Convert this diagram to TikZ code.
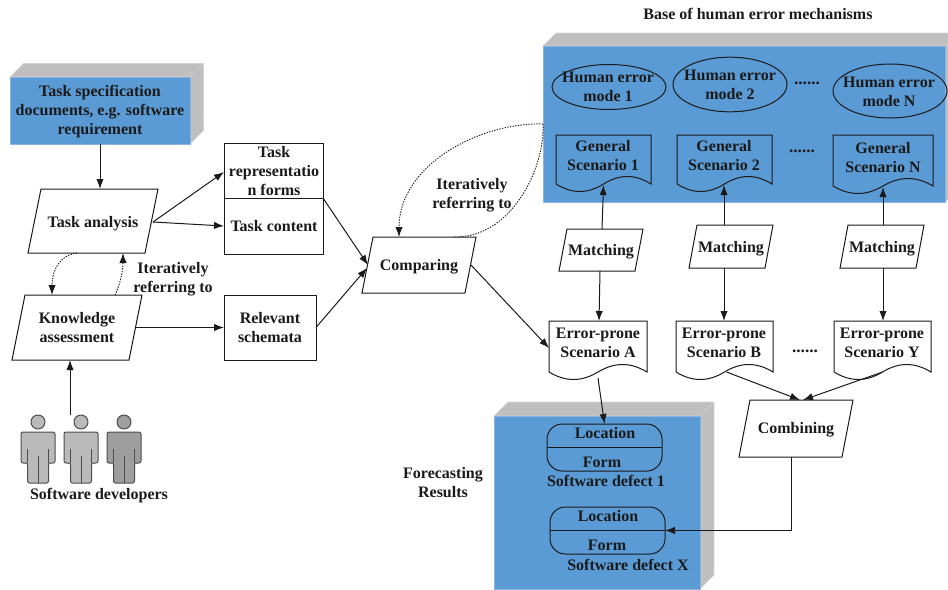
\documentclass[tikz,border=0pt]{standalone}
\usepackage{fontspec}
\setmainfont{Liberation Serif}
\usetikzlibrary{arrows.meta,calc,shapes.geometric}
\definecolor{faceblue}{HTML}{5B9BD5}
\definecolor{edgeblue}{HTML}{8DB4DE}
\definecolor{facegrey}{HTML}{BFBFBF}
\definecolor{edgegrey}{HTML}{D4D4D4}
\definecolor{ink}{HTML}{1A1A1A}
\tikzset{
  geo/.style={inner sep=0pt,outer sep=0pt,rectangle},
  shapeline/.style={draw=ink,line width=0.75pt},
  txt/.style={font=\bfseries\fontsize{12}{14.25}\selectfont,align=center,text=ink,inner sep=0pt},
  link/.style={draw=ink,line width=0.75pt,-{Latex[length=7.5pt,width=5.5pt]}},
  dotlink/.style={draw=ink,line width=0.7pt,dash pattern=on 1pt off 1pt,-{Latex[length=7.5pt,width=5.5pt]}},
  plainlink/.style={draw=ink,line width=0.7pt,dash pattern=on 1pt off 1pt},
  modeellipse/.style={ellipse,draw=ink,line width=0.75pt,inner sep=0pt,outer sep=0pt},
}
% name, x0,y0,x1,y1
\newcommand\geomnode[5]{\node[geo,minimum width={abs(#4-#2)*0.75pt},minimum height={abs(#5-#3)*0.75pt}] (#1) at ({(#2+#4)/2},{(#3+#5)/2}) {};}
% name,x0,y0,x1,y1,depth
\newcommand\solidbox[6]{%
  \fill[facegrey,draw=edgegrey,line width=0.5pt] (#2,#3) -- ({#2+#6},{#3-#6}) -- ({#4+#6},{#3-#6}) -- ({#4+#6},{#5-#6}) -- (#4,#5) -- (#4,#3) -- cycle;
  \draw[edgegrey,line width=0.5pt] (#4,#3) -- ({#4+#6},{#3-#6});
  \fill[faceblue,draw=edgeblue,line width=0.6pt] (#2,#3) rectangle (#4,#5);
  \geomnode{#1}{#2}{#3}{#4}{#5}}
% name,x0(bottom left),y0,x1(top right),y1,skew
\newcommand\paranode[6]{%
  \draw[shapeline,fill=white,line join=miter] ({#2+#6},#3) -- (#4,#3) -- ({#4-#6},#5) -- (#2,#5) -- cycle;
  \geomnode{#1}{#2}{#3}{#4}{#5}}
% name,x0,y0,x1,yb
\newcommand\docnode[5]{%
  \pgfmathsetmacro\dw{#4-#2}\pgfmathsetmacro\dm{(#2+#4)/2}
  \draw[shapeline,line join=miter] (#2,#5) -- (#2,#3) -- (#4,#3) -- (#4,#5)
    .. controls ({#4-0.17*\dw},{#5-10}) and ({\dm+0.17*\dw},{#5-10}) .. (\dm,#5)
    .. controls ({\dm-0.17*\dw},{#5+10}) and ({#2+0.17*\dw},{#5+10}) .. (#2,#5);
  \geomnode{#1}{#2}{#3}{#4}{#5}}
% name,cx,fill
\newcommand\personnode[3]{%
  \begin{scope}[draw=black!70,line width=0.75pt,line join=round]
  \filldraw[fill=#3] (#2,422) circle (7);
  \filldraw[fill=#3,rounded corners=1.5pt] ({#2-17},432) -- ({#2+17},432) -- ({#2+17},463) -- ({#2+10.5},463) -- ({#2+10.5},483) -- ({#2-10.5},483) -- ({#2-10.5},463) -- ({#2-17},463) -- cycle;
  \draw ({#2-10.5},449) -- ({#2-10.5},463) ({#2+10.5},449) -- ({#2+10.5},463) (#2,456) -- (#2,483);
  \end{scope}
  \geomnode{#1}{#2-17}{415}{#2+17}{483}}
% name,x0,y0,x1,y1,ydiv
\newcommand\statenode[6]{%
  \draw[shapeline,rounded corners=11.5pt] (#2,#3) rectangle (#4,#5);
  \draw[shapeline] (#2,#6) -- (#4,#6);
  \geomnode{#1}{#2}{#3}{#4}{#5}}
\newcommand\ptext[4]{\node[txt] (#1) at (#2,{#3+1}) {\rule{0pt}{9pt}#4\rule[-3pt]{0pt}{3pt}};}
\newcommand\dotrun{{\fontsize{13}{14}\selectfont ......}}
\begin{document}
\begin{tikzpicture}[x=0.75pt,y=-0.75pt]
\useasboundingbox (0,0) rectangle (948,589);
\begin{scope}
\clip (0,0) rectangle (948,589);
\solidbox{spec}{10}{77}{190}{144}{13.5}
\solidbox{base}{543}{46}{945}{202}{13}
\solidbox{fore}{494}{416}{700}{589}{14}
\end{scope}

% left part
\paranode{ta}{28}{189}{158}{253}{13}
\paranode{kn}{12}{295}{142}{360}{13}
\draw[shapeline] (224,143) rectangle (323,198);
\geomnode{rep}{224}{143}{323}{198}
\draw[shapeline] (224,198) rectangle (323,254);
\geomnode{con}{224}{198}{323}{254}
\draw[shapeline] (224,295) rectangle (316,360);
\geomnode{rel}{224}{295}{316}{360}
\personnode{p1}{38}{black!27}
\personnode{p2}{81}{black!27}
\personnode{p3}{124}{black!38}

% centre
\paranode{cmp}{362}{237}{476}{293}{11}

% error modes
\node[modeellipse,minimum width=85.5pt,minimum height=33.75pt] (e1) at (609,87) {};
\node[modeellipse,minimum width=85.5pt,minimum height=41pt] (e2) at (730,84.5) {};
\node[modeellipse,minimum width=85.5pt,minimum height=40.5pt] (en) at (890,91) {};
\docnode{g1}{556}{135}{651}{184}
\docnode{g2}{677}{135}{772}{184}
\docnode{gn}{833}{135}{933}{186}

% matching
\paranode{m1}{559}{229}{643}{271}{8}
\paranode{m2}{689}{225}{773}{268}{8}
\paranode{mn}{840}{225}{924}{268}{8}

% error-prone
\docnode{ea}{549}{321}{647}{372}
\docnode{eb}{676}{321}{773}{372}
\docnode{ey}{834}{321}{931}{372}
\paranode{cb}{739}{400}{853}{457}{11}

% defects
\statenode{s1}{547}{424}{662}{471}{447}
\statenode{sx}{550}{507}{665}{554}{530}

% texts
\ptext{tspec}{100}{110}{Task specification\\documents, e.g. software\\requirement}
\ptext{tta}{93}{222}{Task analysis}
\ptext{trep}{274}{171}{Task\\representatio\\n forms}
\ptext{tcon}{274}{226}{Task content}
\ptext{tkn}{77}{327.5}{Knowledge\\assessment}
\ptext{trel}{270}{328}{Relevant\\schemata}
\ptext{tdev}{99}{494}{Software developers}
\ptext{tit1}{173}{277.5}{Iteratively\\referring to}
\ptext{tcmp}{419}{265}{Comparing}
\ptext{tit2}{472}{193.5}{Iteratively\\referring to}
\ptext{tbase}{758}{14}{Base of human error mechanisms}
\ptext{te1}{608}{86.5}{Human error\\mode 1}
\ptext{te2}{730}{84.5}{Human error\\mode 2}
\ptext{ten}{889}{91.5}{Human error\\mode N}
\ptext{tg1}{603}{156}{General\\Scenario 1}
\ptext{tg2}{724}{156}{General\\Scenario 2}
\ptext{tgn}{883}{157.5}{General\\Scenario N}
\ptext{dots1}{807}{79}{\dotrun}
\ptext{dots2}{802}{147}{\dotrun}
\ptext{dots3}{805}{347}{\dotrun}
\ptext{tm1}{601}{250}{Matching}
\ptext{tm2}{731}{247}{Matching}
\ptext{tmn}{882}{247}{Matching}
\ptext{tea}{598}{342.5}{Error-prone\\Scenario A}
\ptext{teb}{724}{342.5}{Error-prone\\Scenario B}
\ptext{tey}{882}{342.5}{Error-prone\\Scenario Y}
\ptext{tcb}{796}{428}{Combining}
\ptext{tl1}{605}{433}{Location}
\ptext{tf1}{602}{462}{Form}
\ptext{td1}{606}{481}{Software defect 1}
\ptext{tlx}{608}{516}{Location}
\ptext{tfx}{607}{545}{Form}
\ptext{tdx}{628}{565}{Software defect X}
\ptext{tfore}{443}{482.5}{Forecasting\\Results}

% connectors
\draw[link] (spec.south) -- ($(ta.north)+(7,0)$);
\draw[link] ($(ta.east)+(-5,1)$) -- ($(rep.west)+(0,1.5)$);
\draw[link] ($(ta.east)+(-5,1)$) -- (con.west);
\draw[link] ($(kn.east)+(-6,0)$) -- (rel.west);
\draw[link] ($(p2.north)+(-11,0)$) -- ($(kn.south)+(-7,0)$);
\draw[link] (rep.south east) -- ($(cmp.west)+(6,0)$);
\draw[link] (rel.east) -- ($(cmp.west)+(5,3)$);
\draw[link] ($(cmp.east)+(-5,0)$) -- ($(ea.west)+(0,1.5)$);
\draw[link] ($(ea.south)+(0,6)$) -- (s1.north);
\draw[link] ($(m1.north)+(1,0)$) -- ($(g1.south)+(0,1)$);
\draw[link] ($(m1.south)+(-1,0)$) -- ($(ea.north)+(1,0)$);
\draw[link] ($(m2.north)+(-7,0)$) -- ($(g2.south)+(-0.5,1)$);
\draw[link] ($(m2.south)+(-7,0)$) -- ($(eb.north)+(-0.5,0)$);
\draw[link] ($(mn.north)+(1,0)$) -- ($(gn.south)+(0,1)$);
\draw[link] ($(mn.south)+(1,0)$) -- ($(ey.north)+(0.5,0)$);
\draw[link] ($(eb.south)+(2,0)$) -- ($(cb.north)+(4,0)$);
\draw[link] ($(ey.south)+(0,0)$) -- ($(cb.north)+(7,0)$);
\draw[link] ($(cb.south)+(-5,0)$) |- (sx.east);

% iterative (dotted) connectors
\draw[dotlink] ($(ta.south)+(-16,0)$) .. controls +(-17,2) and +(0,-25) .. ($(kn.north)+(-25,0)$);
\draw[dotlink] ($(kn.north)+(38,0)$) .. controls +(5,-10) and +(0,18) .. ($(ta.south)+(30,0)$);
\draw[dotlink] (base.west) .. controls +(-63,-2) and +(0,-72) .. ($(cmp.north)+(-20,0)$);
\draw[plainlink] (base.west) .. controls +(2,46) and +(57,2) .. ($(cmp.north)+(34,0)$);
\end{tikzpicture}
\end{document}
